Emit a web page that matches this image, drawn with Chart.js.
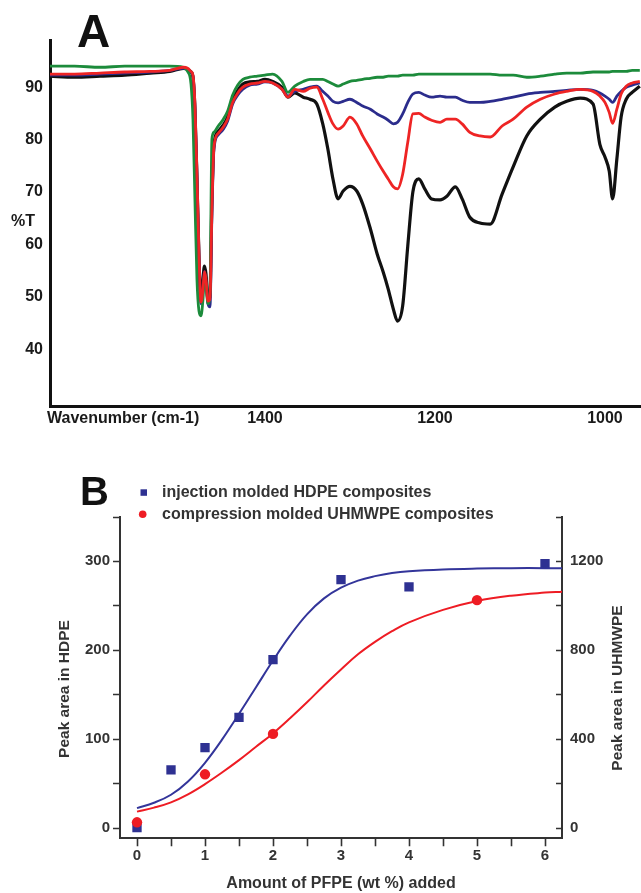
<!DOCTYPE html>
<html>
<head>
<meta charset="utf-8">
<script src="https://cdn.jsdelivr.net/npm/chart.js@4.4.1/dist/chart.umd.min.js"></script>
<style>
  html, body { margin: 0; padding: 0; background: #ffffff; }
  canvas { display: block; }
</style>
</head>
<body>
<canvas id="chartA" width="641" height="430"></canvas>
<canvas id="chartB" width="641" height="463"></canvas>
<script>
// ---------------- Panel A data (FTIR spectra) ----------------
const wavenumbers = [1654,1624,1594,1565,1535,1512,1496,1491,1487,1484.7,1482.4,1480,1477.6,1475.3,1472.9,1471.2,1469.4,1467.1,1464.7,1462.4,1460,1455,1449,1444,1438,1432,1426,1418,1409,1400,1391,1380,1373,1365,1355,1347,1339,1332,1326,1320,1314,1308,1300,1292,1285,1276,1268,1261,1255,1249,1244,1238,1232,1226,1219,1212,1204,1194,1186,1176,1168,1159,1147,1135,1121,1108,1092,1076,1059,1045,1029,1014,1006,1000,995,991,986,981,975,968,959];
const tBlack = [92.1,91.9,92.1,92.3,92.7,93.0,93.6,93.4,92.9,91.9,85.8,72.5,57.2,49.6,53.4,55.9,54.4,49.6,50.0,68.7,79.1,81.6,82.8,84.3,87.7,89.4,90.6,91.0,91.1,91.5,91.1,90.0,88.1,88.9,88.1,87.7,86.8,83.0,78.2,72.5,68.7,70.2,71.1,70.2,67.7,63.0,58.2,54.8,51.5,47.7,45.4,48.3,59.7,70.0,72.5,70.6,68.7,68.5,69.2,71.0,68.7,65.2,64.1,63.9,69.6,74.8,80.7,83.9,86.2,87.3,87.9,86.8,79.1,76.7,74.0,68.7,76.3,84.3,87.7,89.0,90.2];
const tBlue = [92.3,92.3,92.5,92.7,92.9,93.2,93.6,93.4,92.9,92.1,86.2,72.9,57.6,48.7,51.1,54.8,53.0,48.7,48.1,65.8,78.2,80.9,82.0,83.5,86.8,88.5,89.6,90.4,90.6,91.0,90.8,89.6,88.3,89.2,89.6,90.0,90.2,89.2,88.3,87.3,87.0,87.3,87.7,87.1,86.4,85.8,84.9,84.3,83.7,83.0,83.3,84.9,87.1,88.7,89.0,88.5,88.1,88.3,88.1,88.1,87.5,87.1,87.1,87.3,87.7,88.1,88.7,89.0,89.2,89.4,89.6,89.4,88.9,88.3,87.7,87.1,88.3,89.2,90.0,90.4,90.8];
const tGreen = [94.0,94.0,93.8,94.0,94.0,94.0,93.8,93.0,90.6,83.9,68.7,53.4,47.3,46.4,49.6,54.2,52.5,48.7,50.6,80.1,81.4,82.6,83.9,85.4,88.5,90.4,91.5,91.9,92.1,92.3,92.5,91.1,89.0,90.2,91.1,91.5,91.5,91.5,91.1,90.6,90.2,90.6,91.1,91.3,91.5,91.7,91.9,91.9,92.1,92.1,92.1,92.3,92.3,92.3,92.5,92.5,92.5,92.5,92.5,92.5,92.5,92.5,92.5,92.5,92.3,92.3,91.9,92.1,92.5,92.7,92.7,92.9,92.9,92.9,92.9,93.0,93.0,93.0,93.0,93.2,93.2];
const tRed = [92.5,92.5,92.7,92.9,93.0,93.2,93.8,93.6,93.0,92.3,86.8,73.4,58.2,49.0,51.5,54.8,53.4,49.2,49.6,66.8,78.6,81.2,82.4,83.9,87.1,88.9,90.0,90.6,90.8,91.1,90.8,89.6,88.1,89.6,89.2,89.8,90.0,87.7,85.2,83.0,82.0,82.6,84.3,83.0,80.7,78.2,75.9,74.0,72.5,71.0,70.6,73.4,79.5,84.9,85.0,84.3,83.7,83.3,83.9,83.9,83.0,81.4,80.7,80.5,82.6,83.9,86.2,87.7,88.7,89.2,89.6,89.2,88.3,87.1,85.2,83.1,85.8,88.7,90.2,90.8,91.1];
const aXTicks = [1400, 1200, 1000];
const aYTicks = [40, 50, 60, 70, 80, 90];

// ---------------- Panel B data ----------------
const pfpeHdpe = [0, 0.5, 1, 1.5, 2, 3, 4, 6];
const areaHdpe = [0, 65, 90, 124, 189, 279, 271, 297];
const pfpeUhmwpe = [0, 1, 2, 5];
const areaUhmwpe = [24, 240, 422, 1024];
const fitX = [0,0.25,0.5,0.75,1,1.25,1.5,1.75,2,2.25,2.5,2.75,3,3.25,3.5,3.75,4,4.5,5,5.5,6,6.25];
const fitHdpe = [22,28,37,52,73,99,128,158,188,216,240,258,270,278,283,286.5,288.5,290.5,291.5,292,292,292];
const fitUhmwpe = [72,90,114,150,196,248,304,364,424,492,564,640,712,780,836,884,924,980,1020,1044,1058,1062];
const bXTicks = [0, 1, 2, 3, 4, 5, 6];
const bLeftTicks = [0, 100, 200, 300];
const bRightTicks = [0, 400, 800, 1200];
const legendLabels = ['injection molded HDPE composites', 'compression molded UHMWPE composites'];

const FONT = '"Liberation Sans", Arial, Helvetica, sans-serif';
const pts = (xs, ys) => xs.map((x, i) => ({ x: x, y: ys[i] }));
const setTicks = (arr) => (scale) => { scale.ticks = arr.map(v => ({ value: v })); };

// ---------------- Chart A ----------------
const textA = {
  id: 'textA',
  afterDraw(chart) {
    const ctx = chart.ctx;
    ctx.save();
    ctx.fillStyle = '#111';
    ctx.font = 'bold 46px ' + FONT;
    ctx.textAlign = 'left';
    ctx.textBaseline = 'alphabetic';
    ctx.fillText('A', 77, 47);
    ctx.font = 'bold 16px ' + FONT;
    ctx.fillStyle = '#1a1a1a';
    ctx.textAlign = 'center';
    ctx.textBaseline = 'middle';
    ctx.fillText('%T', 23, 222);
    ctx.textAlign = 'left';
    ctx.fillText('Wavenumber (cm-1)', 47, 419);
    ctx.restore();
  }
};

const lineDs = (label, ys, color, width, order) => ({
  label: label,
  data: pts(wavenumbers, ys),
  borderColor: color,
  borderWidth: width,
  pointRadius: 0,
  fill: false,
  cubicInterpolationMode: 'monotone',
  order: order
});

new Chart(document.getElementById('chartA'), {
  type: 'line',
  data: {
    datasets: [
      lineDs('black', tBlack, '#111111', 3.2, 4),
      lineDs('blue', tBlue, '#2b2c8c', 2.8, 3),
      lineDs('green', tGreen, '#1c8b3b', 2.8, 2),
      lineDs('red', tRed, '#ee2424', 2.8, 1)
    ]
  },
  options: {
    responsive: false,
    animation: false,
    layout: { padding: { top: 40, left: 0, right: 0, bottom: 0 } },
    plugins: { legend: { display: false }, tooltip: { enabled: false } },
    scales: {
      x: {
        type: 'linear',
        reverse: true,
        min: 957.6,
        max: 1652.9,
        grid: { display: false, drawTicks: false },
        border: { display: true, color: '#111', width: 3 },
        ticks: { padding: 3, color: '#1a1a1a', font: { family: FONT, size: 16, weight: 'bold' }, callback: v => String(v), maxRotation: 0 },
        afterBuildTicks: setTicks(aXTicks),
        afterFit: s => { s.height = 24; }
      },
      y: {
        type: 'linear',
        min: 29.2,
        max: 99,
        grid: { display: false, drawTicks: false },
        border: { display: true, color: '#111', width: 3 },
        ticks: { padding: 7, color: '#1a1a1a', font: { family: FONT, size: 16, weight: 'bold' }, callback: v => String(v) },
        afterBuildTicks: setTicks(aYTicks),
        afterFit: s => { s.width = 50; }
      }
    }
  },
  plugins: [textA]
});

// ---------------- Chart B ----------------
const decorB = {
  id: 'decorB',
  afterDraw(chart) {
    const ctx = chart.ctx;
    const a = chart.chartArea;
    const sx = chart.scales.x, sl = chart.scales.yL, sr = chart.scales.yR;
    ctx.save();
    // tick marks (major + minor)
    ctx.strokeStyle = '#333';
    ctx.lineWidth = 1.6;
    ctx.beginPath();
    for (let v = 0; v <= 350; v += 50) {
      const y = Math.round(sl.getPixelForValue(v)) + 0.5;
      ctx.moveTo(a.left - 7, y); ctx.lineTo(a.left, y);
    }
    for (let v = 0; v <= 1400; v += 200) {
      const y = Math.round(sr.getPixelForValue(v)) + 0.5;
      ctx.moveTo(a.right - 6, y); ctx.lineTo(a.right, y);
    }
    for (let v = 0; v <= 6; v += 0.5) {
      const x = Math.round(sx.getPixelForValue(v)) + 0.5;
      ctx.moveTo(x, a.bottom); ctx.lineTo(x, a.bottom + 8);
    }
    ctx.stroke();

    // panel letter
    ctx.fillStyle = '#111';
    ctx.font = 'bold 40px ' + FONT;
    ctx.textAlign = 'left';
    ctx.textBaseline = 'alphabetic';
    ctx.fillText('B', 80, 75);

    // legend
    ctx.fillStyle = '#2e3192';
    ctx.fillRect(140.5, 59.3, 6.5, 6.5);
    ctx.fillStyle = '#ee1c24';
    ctx.beginPath(); ctx.arc(142.7, 84.3, 3.8, 0, Math.PI * 2); ctx.fill();
    ctx.fillStyle = '#333';
    ctx.font = 'bold 16px ' + FONT;
    ctx.textBaseline = 'middle';
    ctx.fillText(legendLabels[0], 162, 62.5);
    ctx.fillText(legendLabels[1], 162, 84.5);

    // axis titles
    ctx.font = 'bold 15.5px ' + FONT;
    ctx.textAlign = 'center';
    ctx.save();
    ctx.translate(65, 259); ctx.rotate(-Math.PI / 2);
    ctx.fillText('Peak area in HDPE', 0, 0);
    ctx.restore();
    ctx.save();
    ctx.translate(618, 258); ctx.rotate(-Math.PI / 2);
    ctx.fillText('Peak area in UHMWPE', 0, 0);
    ctx.restore();
    ctx.font = 'bold 16px ' + FONT;
    ctx.fillText('Amount of PFPE (wt %) added', 341, 454);
    ctx.restore();
  }
};

const tickFontB = { family: FONT, size: 15, weight: 'bold' };

new Chart(document.getElementById('chartB'), {
  type: 'scatter',
  data: {
    datasets: [
      { label: legendLabels[0], data: pts(pfpeHdpe, areaHdpe), yAxisID: 'yL', pointStyle: 'rect', pointRadius: 6.6, backgroundColor: '#2e3192', borderColor: '#2e3192', borderWidth: 0, order: 1 },
      { label: legendLabels[1], data: pts(pfpeUhmwpe, areaUhmwpe), yAxisID: 'yR', pointStyle: 'circle', pointRadius: 5.2, backgroundColor: '#ee1c24', borderColor: '#ee1c24', borderWidth: 0, order: 0 },
      { label: 'HDPE fit', data: pts(fitX, fitHdpe), yAxisID: 'yL', showLine: true, pointRadius: 0, borderColor: '#33359a', borderWidth: 2, tension: 0.4, order: 3 },
      { label: 'UHMWPE fit', data: pts(fitX, fitUhmwpe), yAxisID: 'yR', showLine: true, pointRadius: 0, borderColor: '#ee1c24', borderWidth: 2, tension: 0.4, order: 2 }
    ]
  },
  options: {
    responsive: false,
    animation: false,
    layout: { padding: { top: 86.6, left: 0, right: 0, bottom: 0 } },
    plugins: { legend: { display: false }, tooltip: { enabled: false } },
    scales: {
      x: {
        type: 'linear', position: 'bottom', min: -0.25, max: 6.25,
        grid: { display: false, drawTicks: false },
        border: { display: true, color: '#333', width: 2 },
        ticks: { padding: 9, color: '#333', font: tickFontB, callback: v => String(v), maxRotation: 0 },
        afterBuildTicks: setTicks(bXTicks),
        afterFit: s => { s.height = 54.7; }
      },
      yL: {
        type: 'linear', position: 'left', min: -12, max: 350,
        grid: { display: false, drawTicks: false },
        border: { display: true, color: '#333', width: 2 },
        ticks: { padding: 10, color: '#333', font: tickFontB, callback: v => String(v) },
        afterBuildTicks: setTicks(bLeftTicks),
        afterFit: s => { s.width = 120; }
      },
      yR: {
        type: 'linear', position: 'right', min: -48, max: 1400,
        grid: { display: false, drawTicks: false },
        border: { display: true, color: '#333', width: 2 },
        ticks: { padding: 8, color: '#333', font: tickFontB, callback: v => String(v) },
        afterBuildTicks: setTicks(bRightTicks),
        afterFit: s => { s.width = 79; }
      }
    }
  },
  plugins: [decorB]
});
</script>
</body>
</html>
